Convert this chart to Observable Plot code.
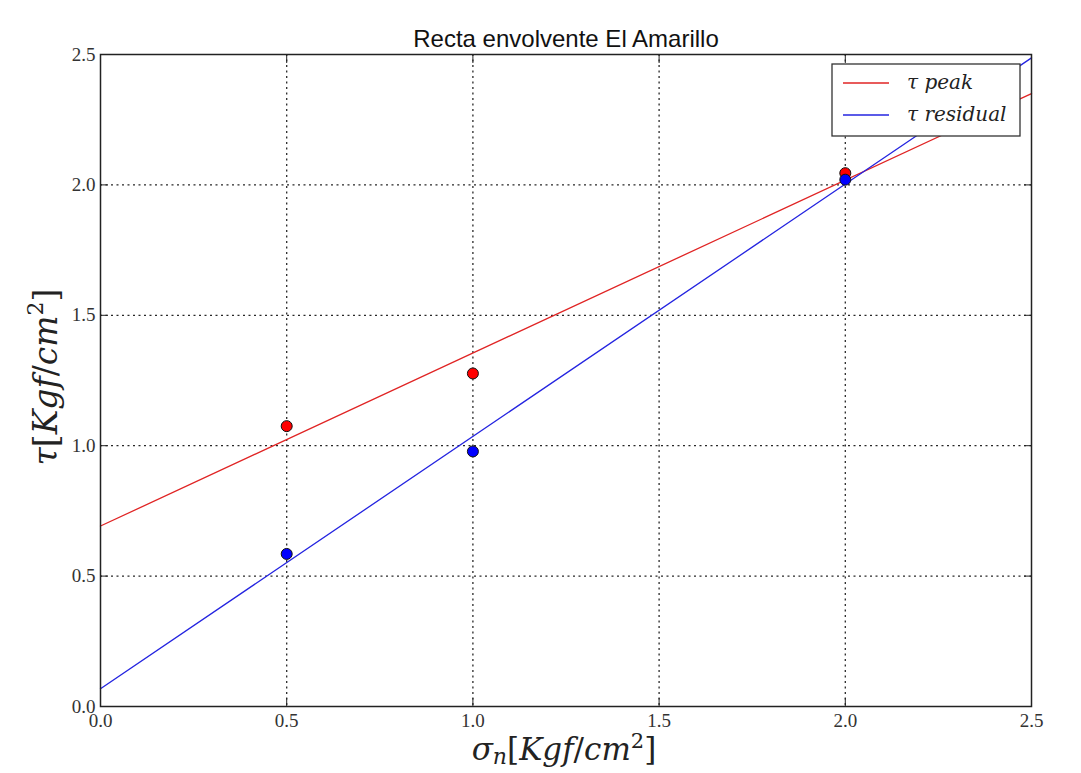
<!DOCTYPE html>
<html>
<head>
<meta charset="utf-8">
<script src="https://cdn.jsdelivr.net/npm/d3@7"></script>
<script src="https://cdn.jsdelivr.net/npm/@observablehq/plot@0.6"></script>
<style>
  html, body { margin: 0; padding: 0; background: #ffffff; }
  #chart { width: 1081px; height: 773px; }
</style>
</head>
<body>
<div id="chart"></div>
<script>
// ---- data ----
const sigma = [0.5, 1.0, 2.0];
const tauPeak = [1.075, 1.277, 2.045];
const tauResidual = [0.585, 0.978, 2.020];
const fitX = [0, 2.5];
const peakFit = [0.692, 2.350];
const residualFit = [0.068, 2.487];
const xTicks = [0, 0.5, 1.0, 1.5, 2.0, 2.5];
const yTicks = [0, 0.5, 1.0, 1.5, 2.0, 2.5];
const gridTicks = [0.5, 1.0, 1.5, 2.0];
const seriesNames = ["peak", "residual"];
const seriesColors = ["#e02424", "#2424e0"];
const dotColors = ["#ff0000", "#0000ff"];

const peakPts = sigma.map((s, i) => ({x: s, y: tauPeak[i]}));
const resPts = sigma.map((s, i) => ({x: s, y: tauResidual[i]}));
const peakLine = fitX.map((x, i) => ({x, y: peakFit[i]}));
const resLine = fitX.map((x, i) => ({x, y: residualFit[i]}));

const W = 1081, H = 773;
const mL = 100, mR = 50, mT = 54, mB = 67;
const fmt = d => d.toFixed(1);
const serif = "'Liberation Serif', 'DejaVu Serif', serif";
const mathFont = "'DejaVu Serif', 'Liberation Serif', serif";

const plot = Plot.plot({
  width: W, height: H,
  marginLeft: mL, marginRight: mR, marginTop: mT, marginBottom: mB,
  style: {fontFamily: serif, fontSize: "19px", color: "#333", background: "white"},
  x: {domain: [0, 2.5]},
  y: {domain: [0, 2.5]},
  marks: [
    Plot.gridX(gridTicks, {stroke: "#111", strokeOpacity: 0.9, strokeWidth: 1.3, strokeDasharray: "2,3.5"}),
    Plot.gridY(gridTicks, {stroke: "#111", strokeOpacity: 0.9, strokeWidth: 1.3, strokeDasharray: "2,3.5"}),
    Plot.line(peakLine, {x: "x", y: "y", stroke: seriesColors[0], strokeWidth: 1.3}),
    Plot.line(resLine, {x: "x", y: "y", stroke: seriesColors[1], strokeWidth: 1.3}),
    Plot.dot(peakPts, {x: "x", y: "y", r: 5.5, fill: dotColors[0], stroke: "#111", strokeWidth: 1}),
    Plot.dot(resPts, {x: "x", y: "y", r: 5.5, fill: dotColors[1], stroke: "#111", strokeWidth: 1}),
    // inward ticks on all four sides
    Plot.axisX(xTicks, {anchor: "bottom", tickSize: -8, tickFormat: () => "", label: null, stroke: "#222"}),
    Plot.axisX(xTicks, {anchor: "top", tickSize: -8, tickFormat: () => "", label: null, stroke: "#222"}),
    Plot.axisY(yTicks, {anchor: "left", tickSize: -8, tickFormat: () => "", label: null, stroke: "#222"}),
    Plot.axisY(yTicks, {anchor: "right", tickSize: -8, tickFormat: () => "", label: null, stroke: "#222"}),
    // tick labels
    Plot.axisX(xTicks, {anchor: "bottom", tickSize: 0, tickPadding: 7, tickFormat: fmt, label: null, fontSize: 19, fill: "#333"}),
    Plot.axisY(yTicks, {anchor: "left", tickSize: 0, tickPadding: 5, tickFormat: fmt, label: null, fontSize: 19, fill: "#333"}),
    Plot.frame({stroke: "#222", strokeWidth: 1.5})
  ]
});

const svg = d3.select(plot);

// title
svg.append("text")
  .attr("x", 566).attr("y", 47)
  .attr("text-anchor", "middle")
  .style("font-family", "'Liberation Sans', Arial, sans-serif")
  .style("font-size", "24px")
  .attr("fill", "#111")
  .text("Recta envolvente El Amarillo");

// x axis label: σn[Kgf/cm²]
const xl = svg.append("text")
  .attr("x", 564).attr("y", 760)
  .attr("text-anchor", "middle")
  .style("font-family", mathFont)
  .style("font-size", "31px")
  .attr("fill", "#222");
xl.append("tspan").style("font-style", "italic").text("σ");
xl.append("tspan").style("font-style", "italic").style("font-size", "22px").attr("dy", 4).text("n");
xl.append("tspan").attr("dy", -4).text("[");
xl.append("tspan").style("font-style", "italic").text("Kgf");
xl.append("tspan").text("/");
xl.append("tspan").style("font-style", "italic").text("cm");
xl.append("tspan").style("font-size", "21px").attr("dy", -12).text("2");
xl.append("tspan").attr("dy", 12).text("]");

// y axis label: τ[Kgf/cm²]
const yl = svg.append("text")
  .attr("transform", "translate(57,377) rotate(-90)")
  .attr("text-anchor", "middle")
  .style("font-family", mathFont)
  .style("font-size", "33px")
  .attr("fill", "#222");
yl.append("tspan").style("font-style", "italic").text("τ");
yl.append("tspan").text("[");
yl.append("tspan").style("font-style", "italic").text("Kgf");
yl.append("tspan").text("/");
yl.append("tspan").style("font-style", "italic").text("cm");
yl.append("tspan").style("font-size", "22px").attr("dy", -14).text("2");
yl.append("tspan").attr("dy", 14).text("]");

// legend
const lg = svg.append("g");
lg.append("rect")
  .attr("x", 832).attr("y", 64).attr("width", 188).attr("height", 72)
  .attr("fill", "white").attr("stroke", "#333").attr("stroke-width", 1.3);
seriesNames.forEach((name, i) => {
  const yy = 83 + i * 32;
  lg.append("line")
    .attr("x1", 843).attr("x2", 889).attr("y1", yy).attr("y2", yy)
    .attr("stroke", seriesColors[i]).attr("stroke-width", 1.3);
  lg.append("text")
    .attr("x", 907).attr("y", yy + 6)
    .attr("text-anchor", "start")
    .style("font-family", mathFont).style("font-style", "italic").style("font-size", "20px")
    .attr("fill", "#222")
    .text("τ " + name);
});

document.getElementById("chart").appendChild(plot);
</script>
</body>
</html>
